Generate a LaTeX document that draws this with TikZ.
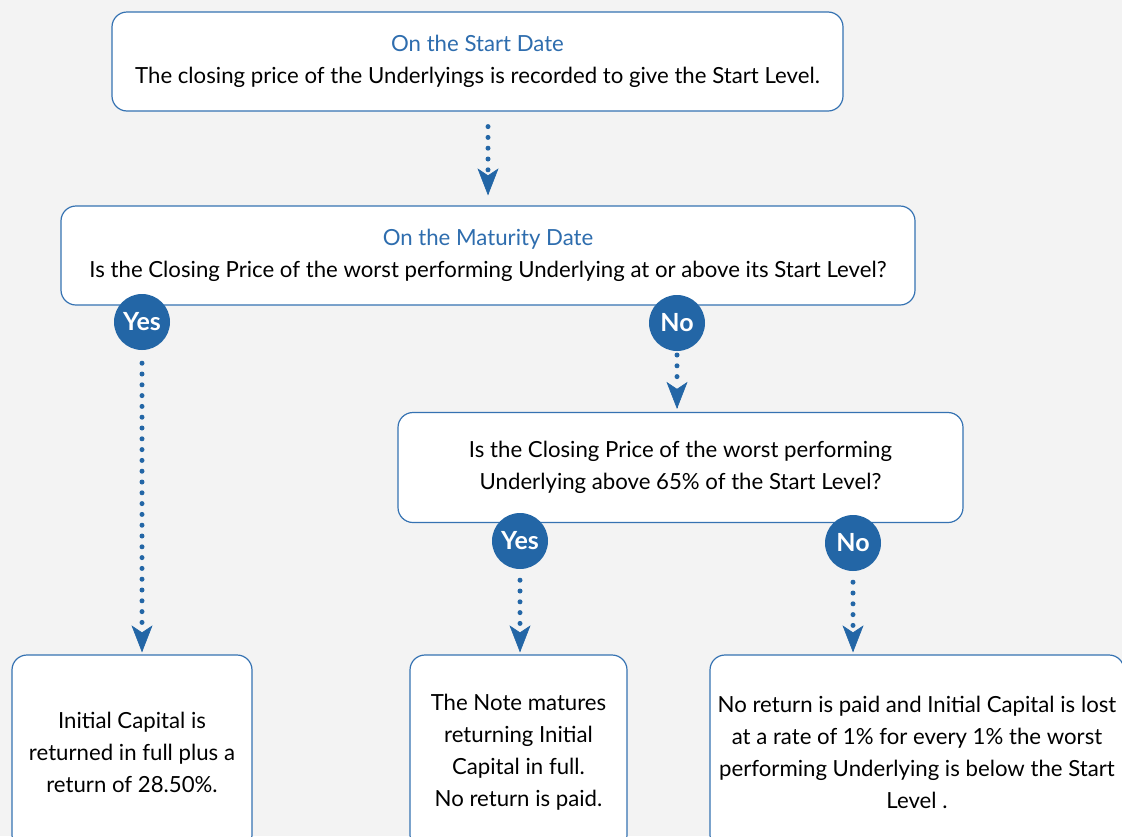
\documentclass[tikz,border=0pt]{standalone}
\usepackage{fontspec}
\setmainfont{Lato}
\usetikzlibrary{arrows.meta}
\definecolor{bg}{HTML}{F3F3F3}
\definecolor{edge}{HTML}{3572B2}
\definecolor{ttl}{HTML}{2E6DAE}
\definecolor{dot}{HTML}{2366A6}
\tikzset{
  box/.style={draw=edge, line width=1.2pt, fill=white, rounded corners=15pt, align=center, inner sep=0pt, font=\fontsize{22.2}{32}\selectfont},
  badge/.style={circle, fill=dot, minimum size=56pt, inner sep=0pt, text=white, font=\fontsize{25}{28}\selectfont\bfseries},
  dotline/.style={draw=dot, line width=5pt, line cap=round, dash pattern=on 0pt off 10.8pt},
  tipline/.style={draw=dot, fill=dot, line width=0.6pt, -{Stealth[length=27pt,width=21pt,inset=7pt]}},
}
\begin{document}
\begin{tikzpicture}[x=1pt,y=-1pt]
\useasboundingbox (0,0) rectangle (1122,836);
\clip (0,0) rectangle (1122,836);
\fill[bg] (0,0) rectangle (1122,836);

\node[box, minimum width=731pt, minimum height=99pt] (start) at (477.5,61.5)
  {{\color{ttl}On the Start Date}\\The closing price of the Underlyings is recorded to give the Start Level.};
\node[box, minimum width=854pt, minimum height=99pt] (mat) at (488,255.5)
  {{\color{ttl}On the Maturity Date}\\Is the Closing Price of the worst performing Underlying at or above its Start Level?};
\node[box, minimum width=565pt, minimum height=110pt] (q2) at (680.5,467.5)
  {Is the Closing Price of the worst performing\\Underlying above 65\% of the Start Level?};
\node[box, minimum width=240pt, minimum height=195pt] (r1) at (132,752.5)
  {Initial Capital is\\returned in full plus a\\return of 28.50\%.};
\node[box, minimum width=217pt, minimum height=195pt] (r2) at (518.5,752.5)
  {The Note matures\\returning Initial\\Capital in full.\\No return is paid.};
\node[box, minimum width=414pt, minimum height=195pt] (r3) at (917,752.5)
  {No return is paid and Initial Capital is lost\\at a rate of 1\% for every 1\% the worst\\performing Underlying is below the Start\\Level .};

\node[badge] (y1) at (142,322) {Yes};
\node[badge] (n1) at (677,323) {No};
\node[badge] (y2) at (520,541) {Yes};
\node[badge] (n2) at (853,543) {No};

% tip end points
\coordinate (e0) at ([yshift=10pt]mat.north);
\coordinate (e1) at ([yshift=2pt]y1 |- r1.north);
\coordinate (e2) at ([yshift=3pt]n1 |- q2.north);
\coordinate (e3) at ([yshift=2pt]y2 |- r2.north);
\coordinate (e4) at ([yshift=2pt]n2 |- r3.north);

\draw[dotline, shorten <=15pt, shorten >=23pt] (start.south -| mat.north) -- (e0);
\draw[dotline, shorten <=13pt, shorten >=23pt] (y1) -- (e1);
\draw[dotline, shorten <=32pt, shorten >=23pt] (n1.center) -- (e2);
\draw[dotline, shorten <=11pt, shorten >=23pt] (y2) -- (e3);
\draw[dotline, shorten <=11pt, shorten >=23pt] (n2) -- (e4);

\foreach \e in {e0,e1,e2,e3,e4}
  \draw[tipline] ([yshift=1pt]\e) -- (\e);
\end{tikzpicture}
\end{document}
